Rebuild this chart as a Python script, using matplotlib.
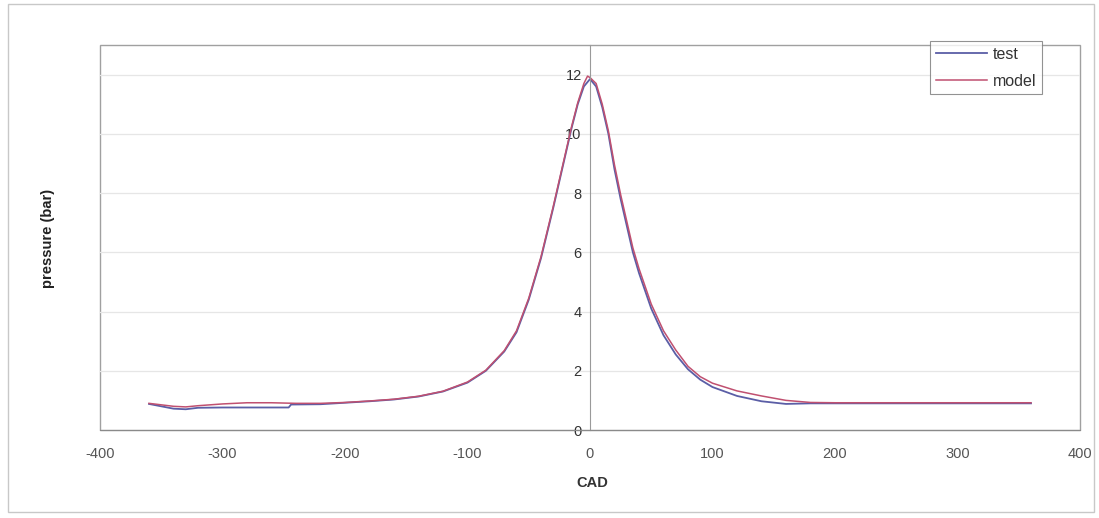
import matplotlib.pyplot as plt
from matplotlib.patches import Rectangle

plt.rcParams['font.family'] = ['Liberation Sans', 'DejaVu Sans']
plt.rcParams['axes.unicode_minus'] = False

# crank angle (deg) and measured cylinder pressure (bar)
cad_test = [-360, -350, -340, -330, -320, -300, -280, -260, -246, -244, -220, -200,
            -180, -160, -140, -120, -100, -85, -70, -60, -50, -40, -30, -25, -20,
            -15, -10, -5, 0, 5, 10, 15, 20, 25, 30, 35, 40, 50, 60, 70, 80, 90,
            100, 120, 140, 160, 180, 200, 250, 300, 360]
p_test = [0.88, 0.80, 0.72, 0.70, 0.75, 0.76, 0.76, 0.76, 0.76, 0.86, 0.87, 0.92,
          0.97, 1.03, 1.13, 1.30, 1.60, 2.00, 2.65, 3.30, 4.40, 5.80, 7.50, 8.40, 9.30,
          10.20, 11.00, 11.60, 11.85, 11.60, 10.90, 10.00, 8.80, 7.80, 6.90, 6.00, 5.30, 4.10, 3.20, 2.55, 2.05, 1.70,
          1.45, 1.15, 0.97, 0.88, 0.90, 0.90, 0.90, 0.90, 0.90]

# model prediction
cad_model = [-360, -350, -340, -330, -320, -300, -280, -260, -240, -220, -200,
             -180, -160, -140, -120, -100, -85, -70, -60, -50, -40, -30, -25, -20,
             -15, -10, -5, -2, 0, 5, 10, 15, 20, 25, 30, 35, 40, 50, 60, 70, 80, 90,
             100, 120, 140, 160, 180, 200, 250, 300, 360]
p_model = [0.90, 0.85, 0.80, 0.78, 0.82, 0.88, 0.92, 0.92, 0.90, 0.90, 0.93,
           0.98, 1.04, 1.14, 1.31, 1.62, 2.02, 2.68, 3.35, 4.45, 5.85, 7.55, 8.45, 9.35,
           10.25, 11.05, 11.70, 11.95, 11.90, 11.70, 11.00, 10.10, 8.95, 7.95, 7.05, 6.15, 5.45, 4.25, 3.35, 2.70, 2.15, 1.80,
           1.58, 1.32, 1.15, 1.00, 0.93, 0.92, 0.92, 0.92, 0.92]

x_ticks = [-400, -300, -200, -100, 0, 100, 200, 300, 400]
y_ticks = [0, 2, 4, 6, 8, 10, 12]

W, H = 1099, 518
fig = plt.figure(figsize=(W / 100, H / 100), dpi=100)
ax = fig.add_axes([100 / W, 1 - 430 / H, 980 / W, 385 / H])

# outer chart frame
fig.patches.append(Rectangle((8 / W, 6 / H), 1086 / W, 508 / H, transform=fig.transFigure,
                             fill=False, edgecolor='#c8c8c8', linewidth=1))

ax.plot(cad_test, p_test, color='#5b5ea6', lw=1.3, label='test')
ax.plot(cad_model, p_model, color='#c05070', lw=1.1, label='model')

ax.set_xlim(-400, 400)
ax.set_ylim(0, 13)
ax.set_xticks(x_ticks)
ax.set_yticks(y_ticks)
for y in y_ticks[1:]:
    ax.axhline(y, color='#e6e6e6', lw=0.9, zorder=0)

# plot-area box, y axis crossing at 0
ax.patch.set_edgecolor('#a0a0a0')
ax.patch.set_linewidth(1.0)
ax.spines['left'].set_position(('data', 0))
ax.spines['left'].set_color('#9a9a9a')
ax.spines['bottom'].set_color('#8a8a8a')
ax.spines['top'].set_visible(False)
ax.spines['right'].set_visible(False)
ax.tick_params(axis='both', length=0, labelsize=10.5, colors='#555555')
ax.tick_params(axis='x', pad=12)
ax.tick_params(axis='y', pad=6, labelcolor='#333333')

fig.text(592 / W, 1 - 483 / H, 'CAD', ha='center', va='center', fontsize=10.5,
         fontweight='bold', color='#333333')
fig.text(48 / W, 1 - 238 / H, 'pressure (bar)', ha='center', va='center', rotation=90,
         fontsize=10.5, fontweight='bold', color='#222222')

leg = ax.legend(loc='upper left', bbox_to_anchor=(922 / W, 1 - 33 / H),
                bbox_transform=fig.transFigure, fontsize=11.5, frameon=True,
                fancybox=False, handlelength=3.2, handletextpad=0.4,
                borderpad=0.35, labelspacing=0.75)
leg.get_frame().set_edgecolor('#777777')
leg.get_frame().set_linewidth(0.8)
for t in leg.get_texts():
    t.set_color('#333333')

fig.savefig('out.png', dpi=100)
